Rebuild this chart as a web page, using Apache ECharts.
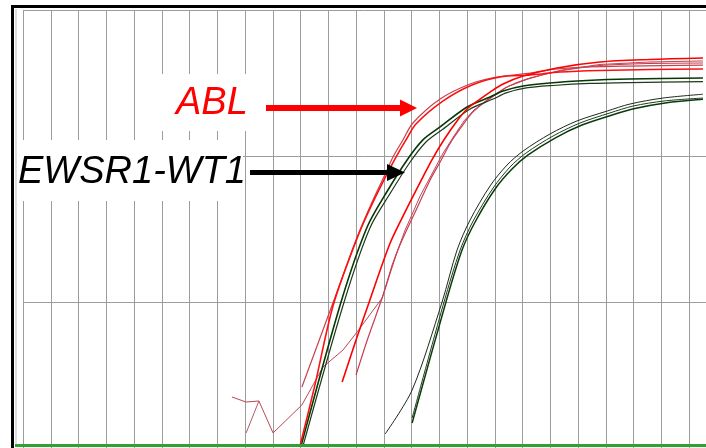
<!DOCTYPE html>
<html><head><meta charset="utf-8">
<script src="https://cdn.jsdelivr.net/npm/echarts@6/dist/echarts.min.js"></script>
<style>html,body{margin:0;padding:0;background:#fff}#c{width:706px;height:448px}</style>
</head><body><div id="c"></div>
<script>
// Amplification curves: [cycle, fluorescence] (cycle 0 = first grid line, fluorescence in grid units)
const ablEarly1 = [[10.05,0.418],[11.14,0.979],[12.04,1.445],[12.61,1.699],[13.12,1.904],[13.33,1.993],[13.69,2.110],[14.05,2.226],[15.03,2.390],[16.11,2.493],[17.08,2.541],[18.27,2.568],[19.24,2.596],[20.43,2.610],[21.87,2.616],[24.50,2.623]];
const ablEarly2 = [[9.98,0.014],[10.52,0.432],[11.17,0.973],[12.07,1.452],[12.65,1.699],[13.19,1.904],[13.44,1.993],[13.80,2.110],[14.16,2.219],[15.14,2.377],[16.18,2.486],[17.19,2.541],[18.27,2.555],[19.35,2.575],[20.79,2.586],[22.59,2.592],[24.50,2.596]];
const ablLate1 = [[11.50,0.452],[12.00,0.740],[12.50,1.014],[13.23,1.404],[13.84,1.644],[14.41,1.856],[14.77,1.986],[15.21,2.123],[15.64,2.240],[16.00,2.322],[16.47,2.390],[16.83,2.438],[17.30,2.493],[18.02,2.548],[19.24,2.603],[20.79,2.644],[22.59,2.661],[24.50,2.671]];
const ablLate2 = [[12.00,0.500],[12.43,0.753],[12.94,1.027],[13.51,1.356],[14.13,1.616],[14.67,1.836],[15.03,1.959],[15.42,2.096],[15.82,2.205],[16.18,2.295],[16.65,2.370],[17.01,2.418],[17.44,2.473],[18.16,2.527],[19.35,2.582],[20.79,2.620],[22.59,2.634],[24.50,2.637]];
const ablLate3 = [[7.53,0.349],[8.04,0.315],[8.50,0.322],[9.01,0.103],[10.05,0.295],[10.81,0.555],[11.53,0.671],[12.04,0.795],[12.94,1.027],[13.30,1.253],[13.77,1.493],[14.31,1.726],[14.81,1.904],[15.14,2.021],[15.53,2.137],[15.89,2.240],[16.25,2.315],[16.72,2.384],[17.08,2.432],[17.51,2.479],[18.27,2.534],[19.42,2.589],[20.79,2.627],[22.59,2.644],[24.50,2.651]];
const ablNoise = [[8.04,0.103],[8.50,0.322]];
const fusEarly1 = [[10.02,0.014],[11.46,1.000],[12.40,1.514],[13.15,1.767],[13.84,1.973],[14.41,2.110],[15.03,2.199],[16.00,2.336],[16.83,2.404],[17.30,2.445],[18.02,2.479],[18.99,2.500],[20.32,2.517],[21.87,2.527],[24.50,2.534]];
const fusEarly2 = [[10.09,0.014],[11.57,1.000],[12.50,1.507],[13.26,1.753],[13.95,1.959],[14.52,2.096],[15.14,2.185],[16.11,2.322],[16.94,2.390],[17.41,2.432],[18.13,2.466],[19.10,2.483],[20.43,2.497],[21.87,2.503],[24.50,2.509]];
const fusLate1 = [[13.05,0.096],[14.02,0.397],[15.10,1.000],[15.64,1.356],[16.11,1.562],[16.83,1.795],[17.44,1.938],[18.02,2.034],[18.99,2.151],[19.96,2.240],[21.05,2.308],[21.87,2.356],[23.06,2.397],[24.50,2.423]];
const fusLate2 = [[14.02,0.171],[15.24,1.000],[15.82,1.356],[16.29,1.548],[17.01,1.774],[17.62,1.911],[18.20,2.007],[19.17,2.123],[20.14,2.212],[21.23,2.281],[22.05,2.325],[23.14,2.363],[24.50,2.388]];
const fusLate3 = [[14.02,0.205],[15.17,1.000],[15.75,1.356],[16.22,1.555],[16.94,1.781],[17.55,1.925],[18.13,2.021],[19.10,2.137],[20.07,2.226],[21.15,2.295],[21.98,2.342],[23.10,2.377],[24.50,2.397]];
const labels = ['ABL', 'EWSR1-WT1'];

const chart = echarts.init(document.getElementById('c'), null, {renderer: 'canvas'});
function line(data, color, width, smooth) {
  return {type: 'line', data: data, showSymbol: false, smooth: smooth, animation: false,
    lineStyle: {color: color, width: width}, silent: true};
}
const font = '"Liberation Sans", Arial, sans-serif';
chart.setOption({
  animation: false,
  backgroundColor: '#fff',
  grid: {left: 23, right: 0, top: 10, bottom: 0, containLabel: false},
  xAxis: {type: 'value', min: 0, max: 24.61, interval: 1,
    axisLine: {show: false}, axisTick: {show: false}, axisLabel: {show: false},
    splitLine: {show: true, lineStyle: {color: '#9c9c9c', width: 1}}},
  yAxis: {type: 'value', min: 0, max: 3, interval: 1,
    axisLine: {show: false}, axisTick: {show: false}, axisLabel: {show: false},
    splitLine: {show: true, lineStyle: {color: '#9c9c9c', width: 1}}},
  series: [
    line(ablNoise, '#b85a6a', 1, false),
    line(ablLate3, '#b84858', 1, false),
    line(ablLate2, '#c83c50', 1.2, 0.3),
    line(ablEarly1, '#c8404e', 1.2, 0.3),
    line(fusLate1, '#1a2a1a', 1, 0.3),
    line(fusLate3, '#203a20', 1, 0.3),
    line(fusLate2, '#0a3a0a', 1.5, 0.3),
    line(fusEarly2, '#1c3a1c', 1.2, 0.3),
    line(fusEarly1, '#063806', 1.6, 0.3),
    line(ablEarly2, '#ff1010', 1.6, 0.3),
    line(ablLate1, '#ff0000', 1.6, 0.3)
  ],
  graphic: [
    {type: 'line', z: 100, shape: {x1: 11, y1: 6.5, x2: 706, y2: 6.5}, style: {stroke: '#000', lineWidth: 3}},
    {type: 'line', z: 100, shape: {x1: 12.5, y1: 5, x2: 12.5, y2: 448}, style: {stroke: '#000', lineWidth: 3}},
    {type: 'line', z: 100, shape: {x1: 16, y1: 9, x2: 16, y2: 444}, style: {stroke: '#bdbdbd', lineWidth: 1}},
    {type: 'line', z: 100, shape: {x1: 15, y1: 445.5, x2: 706, y2: 445.5}, style: {stroke: '#32a032', lineWidth: 3}},
    {type: 'rect', z: 50, shape: {x: 150, y: 74, width: 112, height: 57}, style: {fill: '#fff'}},
    {type: 'rect', z: 50, shape: {x: 17, y: 140, width: 226, height: 61}, style: {fill: '#fff'}},
    {type: 'text', z: 60, x: 176, y: 103, style: {text: labels[0], font: 'italic 38px ' + font, fill: '#ff0000', textVerticalAlign: 'middle', textAlign: 'left'}},
    {type: 'text', z: 60, x: 18, y: 172, style: {text: labels[1], font: 'italic 38px ' + font, fill: '#000', textVerticalAlign: 'middle', textAlign: 'left'}},
    {type: 'line', z: 60, shape: {x1: 266, y1: 108, x2: 402, y2: 108}, style: {stroke: '#ff0000', lineWidth: 6}},
    {type: 'polygon', z: 60, shape: {points: [[400, 99.5], [417, 108], [400, 116.5]]}, style: {fill: '#ff0000'}},
    {type: 'line', z: 60, shape: {x1: 250, y1: 172.5, x2: 389, y2: 172.5}, style: {stroke: '#000', lineWidth: 5}},
    {type: 'polygon', z: 60, shape: {points: [[387, 164], [405, 172.5], [387, 181]]}, style: {fill: '#000'}}
  ]
});
</script></body></html>
